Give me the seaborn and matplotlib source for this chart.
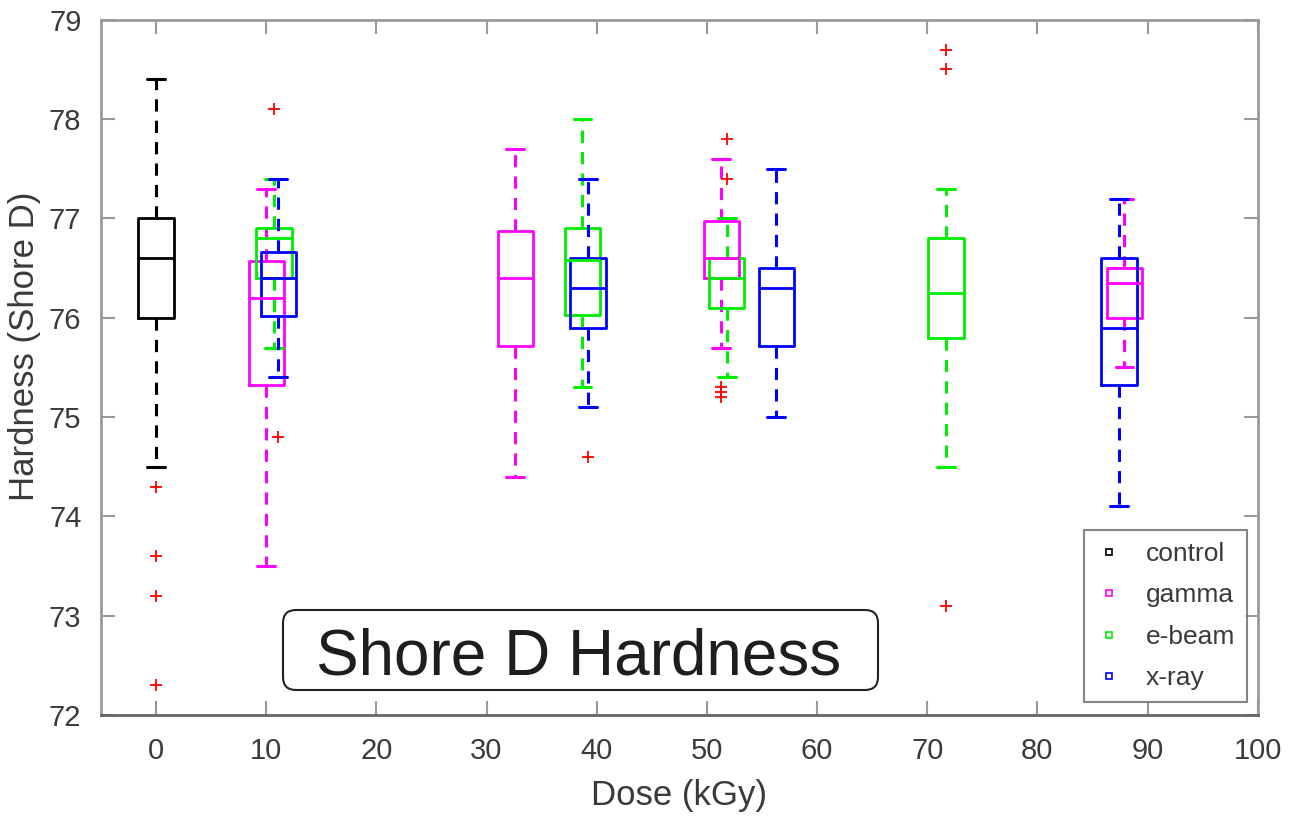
import matplotlib
matplotlib.use("Agg")
import matplotlib.pyplot as plt
from matplotlib.lines import Line2D
from matplotlib.patches import FancyBboxPatch
import seaborn as sns

# one box per (source, dose) -- summary stats
groups = ["control", "gamma", "e-beam", "x-ray", "gamma", "e-beam", "x-ray",
          "gamma", "e-beam", "x-ray", "e-beam", "x-ray", "gamma"]
doses = [0.0, 10.0, 10.7, 11.1, 32.6, 38.7, 39.2, 51.3, 51.8, 56.3, 71.7, 87.4, 87.9]
whis_lo = [74.5, 73.5, 75.7, 75.4, 74.4, 75.3, 75.1, 75.7, 75.4, 75.0, 74.5, 74.1, 75.5]
q1 = [76.0, 75.32, 76.4, 76.02, 75.72, 76.03, 75.9, 76.4, 76.1, 75.72, 75.8, 75.32, 76.0]
medians = [76.6, 76.2, 76.8, 76.4, 76.4, 76.58, 76.3, 76.6, 76.4, 76.3, 76.25, 75.9, 76.35]
q3 = [77.0, 76.57, 76.9, 76.66, 76.87, 76.9, 76.6, 76.97, 76.6, 76.5, 76.8, 76.6, 76.5]
whis_hi = [78.4, 77.3, 77.4, 77.4, 77.7, 78.0, 77.4, 77.6, 77.0, 77.5, 77.3, 77.2, 77.2]

# outliers (red +)
outlier_dose = [0.0, 0.0, 0.0, 0.0, 10.7, 11.1, 39.2, 51.3, 51.3, 51.3,
                51.8, 51.8, 71.7, 71.7, 71.7]
outlier_vals = [74.3, 73.6, 73.2, 72.3, 78.1, 74.8, 74.6, 75.3, 75.25, 75.2,
                77.8, 77.4, 78.7, 78.5, 73.1]

sources = ["control", "gamma", "e-beam", "x-ray"]
colors = {"control": "#000000", "gamma": "#ff00ff", "e-beam": "#00ee00", "x-ray": "#0000ff"}

sns.set_style("ticks")
plt.rcParams["font.family"] = ["Liberation Sans", "DejaVu Sans"]
text_col = "#3a3a3a"

fig = plt.figure(figsize=(12.94, 8.21), dpi=100)
ax = fig.add_axes([0.078, 0.129, 0.894, 0.847])

for src in sources:
    idx = [i for i, g in enumerate(groups) if g == src]
    stats = [dict(whislo=whis_lo[i], q1=q1[i], med=medians[i], q3=q3[i],
                  whishi=whis_hi[i], fliers=[]) for i in idx]
    c = colors[src]
    ax.bxp(stats, positions=[doses[i] for i in idx], widths=3.2,
           showfliers=False, manage_ticks=False,
           boxprops=dict(color=c, linewidth=2),
           medianprops=dict(color=c, linewidth=2),
           whiskerprops=dict(color=c, linewidth=2.2, linestyle=(0, (4, 3))),
           capprops=dict(color=c, linewidth=2.2))

sns.scatterplot(x=outlier_dose, y=outlier_vals, marker="+", color="red",
                s=70, linewidth=1.3, ax=ax, zorder=4)

ax.set_xlim(-5, 100)
ax.set_ylim(72, 79)
ax.set_xticks(range(0, 101, 10))
ax.set_yticks(range(72, 80))
ax.tick_params(direction="in", length=10, width=1.5, color="#999999",
               labelsize=21, labelcolor=text_col, top=True, right=True)
ax.tick_params(axis="x", pad=16)
ax.tick_params(axis="y", pad=14)
for side, sp in ax.spines.items():
    sp.set_visible(True)
    sp.set_color("#9a9a9a")
    sp.set_linewidth(2)
ax.spines["bottom"].set_color("#666666")

ax.set_xlabel("Dose (kGy)", fontsize=25, color=text_col, labelpad=10)
ax.set_ylabel("Hardness (Shore D)", fontsize=25, color=text_col, labelpad=0)
ax.yaxis.set_label_coords(-0.052, 0.53)

handles = [Line2D([], [], linestyle="none", marker="s", markersize=5,
                  markerfacecolor="white", markeredgecolor=colors[s],
                  markeredgewidth=1.2) for s in sources]
leg = ax.legend(handles, sources, loc="upper right", bbox_to_anchor=(0.991, 0.266),
                borderaxespad=0, fontsize=19, labelspacing=0.66, handlelength=1.0,
                handletextpad=0.9, borderpad=0.45, frameon=True, fancybox=False)
leg.get_frame().set_edgecolor("#666666")
leg.get_frame().set_linewidth(1.5)
for t in leg.get_texts():
    t.set_color(text_col)

# caption box drawn in inches so the corners stay round
box = FancyBboxPatch((2.83, 1.31), 5.95, 0.80,
                     boxstyle="round,pad=0,rounding_size=0.13",
                     transform=fig.dpi_scale_trans, facecolor="white",
                     edgecolor="#222222", linewidth=1.5, zorder=5)
fig.patches.append(box)
fig.text(5.79 / 12.94, (821 - 674) / 821, "Shore D Hardness", ha="center",
         va="baseline", fontsize=46, color="#1e1e1e", zorder=6)

fig.savefig("out.png", dpi=100)
